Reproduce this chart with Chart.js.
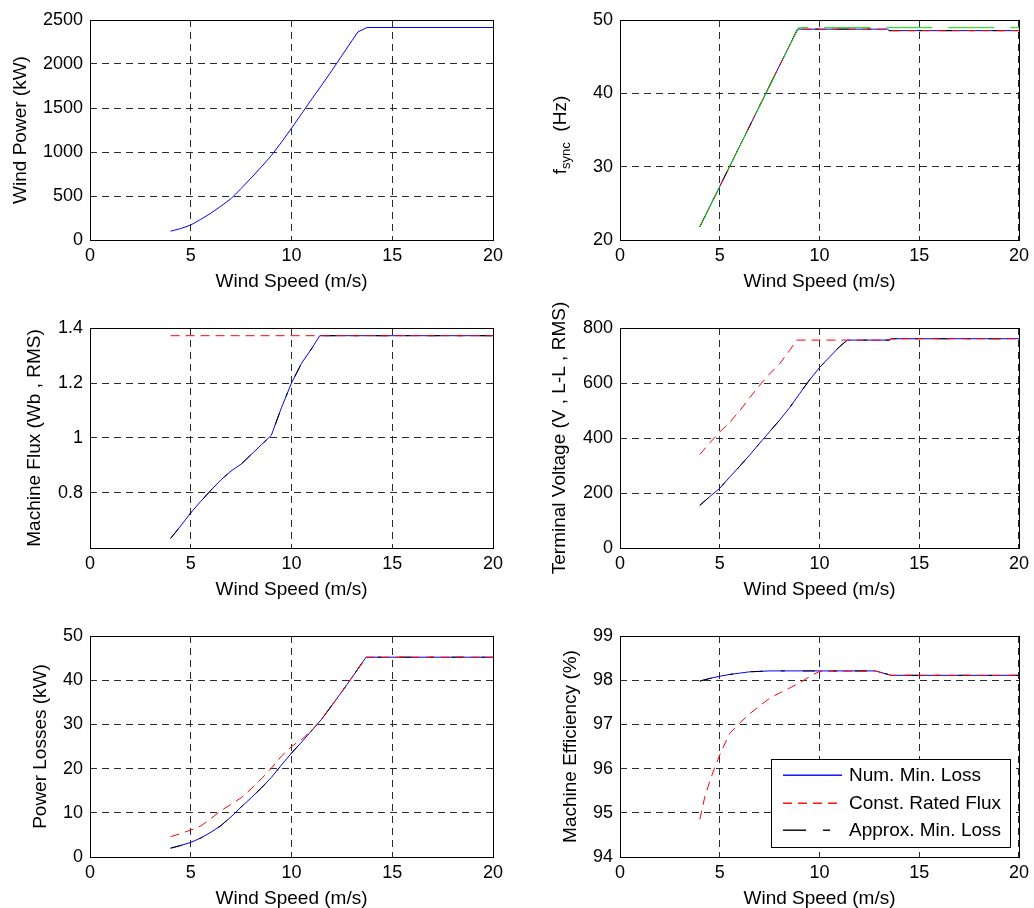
<!DOCTYPE html>
<html>
<head>
<meta charset="utf-8">
<script src="https://cdn.jsdelivr.net/npm/chart.js@4.4.0/dist/chart.umd.min.js"></script>
<style>
html, body { margin: 0; padding: 0; background: #fff; overflow: hidden; }
canvas { position: absolute; }
</style>
</head>
<body>
<canvas id="power" width="517" height="300" style="left:0;top:0;width:517px;height:300px"></canvas>
<canvas id="fsync" width="517" height="300" style="left:517px;top:0;width:517px;height:300px"></canvas>
<canvas id="flux" width="517" height="305" style="left:0;top:300px;width:517px;height:305px"></canvas>
<canvas id="volt" width="517" height="305" style="left:517px;top:300px;width:517px;height:305px"></canvas>
<canvas id="loss" width="517" height="303" style="left:0;top:605px;width:517px;height:303px"></canvas>
<canvas id="eff" width="517" height="303" style="left:517px;top:605px;width:517px;height:303px"></canvas>
<script>
// ------------------------------
// Data
// ------------------------------

const xTicks = [0, 5, 10, 15, 20];

const seriesNames  = ['Num. Min. Loss', 'Const. Rated Flux', 'Approx. Min. Loss'];
const seriesColors = ['#0000ff', '#ff0000', '#000000'];

// wind power (kW)
const powerSpeed = [4, 4.5, 5, 5.5, 6, 6.5, 7, 7.5, 8, 8.5, 9, 9.5, 10, 10.5, 11, 11.5, 12, 12.5, 13, 13.3, 13.75, 20];
const windPower  = [100, 130, 170, 235, 305, 385, 470, 585, 705, 830, 960, 1110, 1270, 1435, 1600, 1760, 1925, 2095, 2265, 2365, 2415, 2415];
const powerTicks = [0, 500, 1000, 1500, 2000, 2500];

// synchronous frequency (Hz)
const fsyncSpeed = [4, 8.9, 13.4, 13.5, 20];
const fsyncHz    = [21.8, 48.75, 48.75, 48.55, 48.55];
const fsyncRefSpeed = [4, 8.95, 20];
const fsyncRefHz    = [21.8, 48.95, 48.95];
const fsyncTicks = [20, 30, 40, 50];

// machine flux (Wb, RMS)
const fluxSpeed = [4, 4.5, 5, 5.5, 6, 6.5, 7, 7.5, 8, 8.5, 9, 9.5, 10, 10.5, 11, 11.4, 20];
const fluxMin   = [0.635, 0.68, 0.728, 0.77, 0.81, 0.848, 0.88, 0.905, 0.94, 0.975, 1.01, 1.11, 1.2, 1.272, 1.325, 1.372, 1.372];
const fluxRatedSpeed = [4, 20];
const fluxRated      = [1.372, 1.372];
const fluxTicks = [0.8, 1, 1.2, 1.4];

// terminal voltage (V, L-L, RMS)
const voltSpeed = [4, 4.5, 5, 5.5, 6, 6.5, 7, 7.5, 8, 8.5, 9, 9.5, 10, 10.5, 11, 11.4, 13.5, 13.6, 20];
const voltMin   = [155, 187, 217, 258, 297, 338, 381, 423, 465, 510, 561, 611, 656, 694, 732, 756, 756, 761, 761];
const voltRatedSpeed = [4, 4.5, 5, 5.5, 6, 6.5, 7, 7.5, 8, 8.5, 8.85, 13.5, 13.6, 20];
const voltRated      = [340, 382, 422, 457, 499, 546, 592, 633, 670, 718, 756, 756, 761, 761];
const voltTicks = [0, 200, 400, 600, 800];

// power losses (kW)
const lossSpeed = [4, 4.5, 5, 5.5, 6, 6.5, 7, 7.5, 8, 8.5, 9, 9.5, 10, 10.5, 11, 11.5, 12, 12.5, 13, 13.7, 20];
const lossMin   = [2.0, 2.6, 3.3, 4.3, 5.6, 7.1, 9.1, 11.3, 13.4, 15.6, 18.0, 20.8, 23.5, 26.0, 28.6, 31.2, 34.3, 37.4, 40.6, 45.2, 45.2];
const lossRated = [4.6, 5.3, 6.1, 7.0, 8.7, 10.5, 11.9, 13.4, 15.4, 17.7, 20.1, 22.8, 25.0, 26.6, 28.6, 31.2, 34.3, 37.4, 40.6, 45.2, 45.2];
const lossTicks = [0, 10, 20, 30, 40, 50];

// machine efficiency (%)
const effSpeed = [4, 4.5, 5, 5.5, 6, 6.5, 7, 7.5, 12.8, 13.6, 20];
const effMin   = [97.98, 98.04, 98.09, 98.13, 98.16, 98.19, 98.2, 98.21, 98.21, 98.11, 98.11];
const effRatedSpeed = [4, 4.25, 4.5, 4.75, 5, 5.5, 6, 6.5, 7, 7.5, 8, 8.5, 9, 9.5, 10, 12.8, 13.6, 20];
const effRated      = [94.85, 95.36, 95.71, 96.03, 96.31, 96.8, 97.03, 97.24, 97.42, 97.59, 97.71, 97.82, 97.94, 98.08, 98.2, 98.21, 98.11, 98.11];
const effTicks = [94, 95, 96, 97, 98, 99];

// ------------------------------
// Helpers
// ------------------------------

const FONT = '"Liberation Sans", Arial, Helvetica, sans-serif';
Chart.defaults.font.family = FONT;
Chart.defaults.color = '#000';

const RATED_DASH = [9, 6];
const APPROX_DASH = [23, 17, 7, 17];
const legendDash = [[59], RATED_DASH, APPROX_DASH];

const pts = (xs, ys) => xs.map((x, i) => ({x: x, y: ys[i]}));

// red on top, sparse black dashes over blue
const numMin = d => ({label: seriesNames[0], data: d, borderColor: seriesColors[0], order: 3});
const rated = d => ({label: seriesNames[1], data: d, borderColor: seriesColors[1], borderDash: RATED_DASH, order: 1});
const approx = d => ({label: seriesNames[2], data: d, borderColor: seriesColors[2], borderDash: [12, 18, 4, 18], order: 2});

// box round the plot area
const frame = {
    id: 'frame',
    afterDatasetsDraw(chart) {
        const a = chart.chartArea, ctx = chart.ctx;
        ctx.save();
        ctx.strokeStyle = '#000';
        ctx.lineWidth = 1;
        ctx.setLineDash([]);
        const l = Math.round(a.left) + 0.5, t = Math.round(a.top) + 0.5;
        const r = Math.round(a.right) + 0.5, b = Math.round(a.bottom) + 0.5;
        ctx.strokeRect(l, t, r - l, b - t);
        ctx.restore();
    }
};

// rotated y title, with optional subscript
const yTitle = {
    id: 'yTitle',
    afterDraw(chart, args, o) {
        const a = chart.chartArea, ctx = chart.ctx;
        const parts = o.sub ? [[o.text, 19, 0], [o.sub, 13, 5], [o.rest, 19, 0]] : [[o.text, 19, 0]];
        ctx.save();
        ctx.translate(o.x, (a.top + a.bottom) / 2 + (o.dy || 0));
        ctx.rotate(-Math.PI / 2);
        ctx.fillStyle = '#000';
        ctx.textBaseline = 'middle';
        ctx.textAlign = 'left';
        let w = 0;
        parts.forEach(p => { ctx.font = p[1] + 'px ' + FONT; w += ctx.measureText(p[0]).width; });
        let x = -w / 2;
        parts.forEach(p => {
            ctx.font = p[1] + 'px ' + FONT;
            ctx.fillText(p[0], x, p[2]);
            x += ctx.measureText(p[0]).width;
        });
        ctx.restore();
    }
};

// boxed legend inside the plot, lower right
const boxLegend = {
    id: 'boxLegend',
    afterDraw(chart) {
        const a = chart.chartArea, ctx = chart.ctx;
        ctx.save();
        ctx.setLineDash([]);
        ctx.font = '19px ' + FONT;
        let tw = 0;
        seriesNames.forEach(n => { tw = Math.max(tw, ctx.measureText(n).width); });
        const w = Math.round(12 + 59 + 7 + tw + 9), h = 88;
        const right = Math.round(a.right) - 9, bottom = Math.round(a.bottom) - 10;
        const left = right - w, top = bottom - h;
        ctx.fillStyle = '#fff';
        ctx.fillRect(left, top, w, h);
        ctx.strokeStyle = '#000';
        ctx.lineWidth = 1;
        ctx.strokeRect(left + 0.5, top + 0.5, w, h);
        seriesNames.forEach((n, i) => {
            const y = Math.round(top + 16 + i * 27.5);
            // sample line, soft edged like the plotted lines
            ctx.fillStyle = seriesColors[i];
            const pat = legendDash[i];
            let x = left + 12, k = 0;
            while (x < left + 71) {
                const len = pat[k % pat.length];
                if (k % 2 === 0) ctx.fillRect(x, y - 0.5, Math.min(len, left + 71 - x), 1.4);
                x += len;
                k++;
            }
            ctx.fillStyle = '#000';
            ctx.textBaseline = 'middle';
            ctx.fillText(n, left + 78, y + 0.5);
        });
        ctx.restore();
    }
};

function makeChart(id, c) {
    const plugins = [frame, yTitle];
    if (c.legend) plugins.push(boxLegend);
    return new Chart(document.getElementById(id), {
        type: 'line',
        data: {datasets: c.datasets},
        options: {
            responsive: false,
            animation: false,
            devicePixelRatio: 1,
            layout: {padding: c.padding},
            elements: {point: {radius: 0}, line: {borderWidth: 1, tension: 0, fill: false}},
            plugins: {
                legend: {display: false},
                tooltip: {enabled: false},
                yTitle: c.yTitle
            },
            scales: {
                x: {
                    type: 'linear', min: 0, max: 20,
                    afterBuildTicks: s => { s.ticks = xTicks.map(v => ({value: v})); },
                    afterFit: s => { s.height = 51; },
                    grid: {color: '#2b2b2b', lineWidth: 1, drawTicks: false},
                    border: {display: false, dash: [7, 5]},
                    ticks: {font: {size: 18}, padding: 5, maxRotation: 0, callback: v => String(v)},
                    title: {display: true, text: 'Wind Speed (m/s)', font: {size: 19, lineHeight: 1}, padding: 0}
                },
                y: {
                    type: 'linear', min: c.yMin, max: c.yMax,
                    afterBuildTicks: s => { s.ticks = c.yTicks.map(v => ({value: v})); },
                    afterFit: s => { s.width = c.yWidth; },
                    grid: {color: '#2b2b2b', lineWidth: 1, drawTicks: false},
                    border: {display: false, dash: [7, 5]},
                    ticks: {font: {size: 18}, padding: 7, callback: v => String(v)}
                }
            }
        },
        plugins: plugins
    });
}

// ------------------------------
// Charts
// ------------------------------

makeChart('power', {
    datasets: [numMin(pts(powerSpeed, windPower))],
    yMin: 0, yMax: 2500, yTicks: powerTicks, yWidth: 90,
    padding: {left: 0, right: 24, top: 20, bottom: 9},
    yTitle: {text: 'Wind Power (kW)', x: 20.5}
});

makeChart('fsync', {
    datasets: [
        numMin(pts(fsyncSpeed, fsyncHz)),
        rated(pts(fsyncSpeed, fsyncHz)),
        approx(pts(fsyncSpeed, fsyncHz)),
        {data: pts(fsyncRefSpeed, fsyncRefHz), borderColor: '#00dd00', borderDash: [46, 16], order: 0}
    ],
    yMin: 20, yMax: 50, yTicks: fsyncTicks, yWidth: 103,
    padding: {left: 0, right: 11, top: 20, bottom: 9},
    yTitle: {text: 'f', sub: 'sync', rest: '  (Hz)', x: 44, dy: 5}
});

makeChart('flux', {
    datasets: [
        numMin(pts(fluxSpeed, fluxMin)),
        rated(pts(fluxRatedSpeed, fluxRated)),
        approx(pts(fluxSpeed, fluxMin))
    ],
    yMin: 0.6, yMax: 1.4, yTicks: fluxTicks, yWidth: 90,
    padding: {left: 0, right: 24, top: 28, bottom: 6},
    yTitle: {text: 'Machine Flux (Wb , RMS)', x: 35}
});

makeChart('volt', {
    datasets: [
        numMin(pts(voltSpeed, voltMin)),
        rated(pts(voltRatedSpeed, voltRated)),
        approx(pts(voltSpeed, voltMin))
    ],
    yMin: 0, yMax: 800, yTicks: voltTicks, yWidth: 103,
    padding: {left: 0, right: 11, top: 28, bottom: 6},
    yTitle: {text: 'Terminal Voltage (V , L-L , RMS)', x: 43}
});

makeChart('loss', {
    datasets: [
        numMin(pts(lossSpeed, lossMin)),
        rated(pts(lossSpeed, lossRated)),
        approx(pts(lossSpeed, lossMin))
    ],
    yMin: 0, yMax: 50, yTicks: lossTicks, yWidth: 90,
    padding: {left: 0, right: 24, top: 31, bottom: 0},
    yTitle: {text: 'Power Losses (kW)', x: 41}
});

makeChart('eff', {
    datasets: [
        numMin(pts(effSpeed, effMin)),
        rated(pts(effRatedSpeed, effRated)),
        approx(pts(effSpeed, effMin))
    ],
    yMin: 94, yMax: 99, yTicks: effTicks, yWidth: 103,
    padding: {left: 0, right: 11, top: 31, bottom: 0},
    yTitle: {text: 'Machine Efficiency (%)', x: 54},
    legend: true
});
</script>
</body>
</html>
